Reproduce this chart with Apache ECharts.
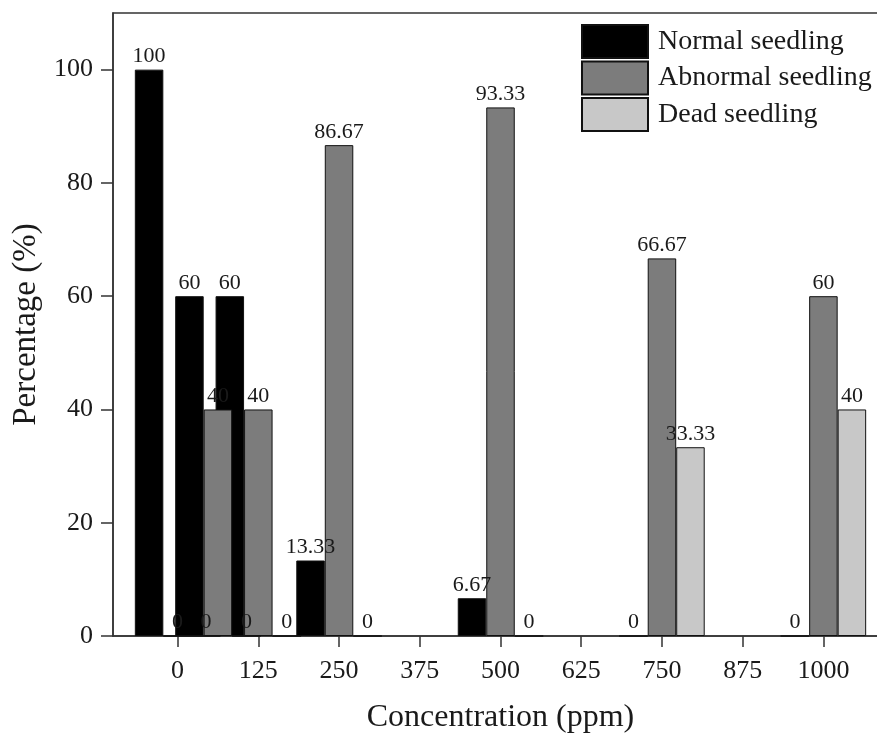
<!DOCTYPE html>
<html>
<head>
<meta charset="utf-8">
<script src="https://cdn.jsdelivr.net/npm/echarts@6/dist/echarts.min.js"></script>
<style>html,body{margin:0;padding:0;background:#fff;overflow:hidden;}#c{width:877px;height:737px;}</style>
</head>
<body>
<div id="c"></div>
<script>
const concentrations = [0, 62.5, 125, 250, 500, 750, 1000];
const normalSeedling = [100, 60, 60, 13.33, 6.67, 0, 0];
const abnormalSeedling = [0, 40, 40, 86.67, 93.33, 66.67, 60];
const deadSeedling = [0, 0, 0, 0, 0, 33.33, 40];
const seriesNames = ['Normal seedling', 'Abnormal seedling', 'Dead seedling'];
const xTickValues = [0, 125, 250, 375, 500, 625, 750, 875, 1000];
const yTickValues = [0, 20, 40, 60, 80, 100];

const FONT = '"Liberation Serif", "DejaVu Serif", serif';
const TXT = '#1a1a1a';
const colors = ['#000000', '#7c7c7c', '#c8c8c8'];

function pairs(vals) { return concentrations.map((c, i) => [c, vals[i]]); }

function makeSeries(name, vals, color) {
  return {
    name: name,
    type: 'bar',
    data: pairs(vals),
    barWidth: 28.5,
    barGap: '0%',
    itemStyle: { color: color, borderColor: '#111', borderWidth: 1 },
    label: {
      show: true, position: 'top', distance: 2,
      fontFamily: FONT, fontSize: 22, color: TXT,
      formatter: p => String(p.value[1])
    },
    emphasis: { disabled: true }
  };
}

const chart = echarts.init(document.getElementById('c'), null, { renderer: 'canvas' });
chart.setOption({
  animation: false,
  backgroundColor: '#fff',
  grid: { left: 113, top: 13, width: 775, height: 623, outerBoundsMode: 'none', containLabel: false,
          show: true, borderColor: '#333', borderWidth: 1.5, backgroundColor: 'transparent' },
  legend: {
    orient: 'vertical', left: 581, top: 24, padding: 0,
    itemWidth: 66, itemHeight: 33, itemGap: 1.5,
    icon: 'rect',
    data: seriesNames,
    textStyle: { fontFamily: FONT, fontSize: 28, lineHeight: 30, color: TXT, padding: [0, 0, 0, 5] },
    selectedMode: false
  },
  xAxis: {
    type: 'value', min: -100, max: 1100,
    name: 'Concentration (ppm)', nameLocation: 'middle', nameGap: 66,
    nameTextStyle: { fontFamily: FONT, fontSize: 32, color: TXT },
    axisLine: { show: true, onZero: false, lineStyle: { color: '#333', width: 1.5 } },
    axisTick: { show: true, length: 11, customValues: xTickValues, lineStyle: { color: '#333', width: 1.5 } },
    axisLabel: { customValues: xTickValues, fontFamily: FONT, fontSize: 26, color: TXT, margin: 22,
                 formatter: v => String(v) },
    splitLine: { show: false }
  },
  yAxis: {
    type: 'value', min: 0, max: 110,
    name: 'Percentage (%)', nameLocation: 'middle', nameGap: 70,
    nameTextStyle: { fontFamily: FONT, fontSize: 33, color: TXT },
    axisLine: { show: true, onZero: false, lineStyle: { color: '#333', width: 1.5 } },
    axisTick: { show: true, length: 12, customValues: yTickValues, lineStyle: { color: '#333', width: 1.5 } },
    axisLabel: { customValues: yTickValues, fontFamily: FONT, fontSize: 26, color: TXT, margin: 20,
                 formatter: v => String(v) },
    splitLine: { show: false }
  },
  series: [
    makeSeries(seriesNames[0], normalSeedling, colors[0]),
    makeSeries(seriesNames[1], abnormalSeedling, colors[1]),
    makeSeries(seriesNames[2], deadSeedling, colors[2])
  ]
});
</script>
</body>
</html>
